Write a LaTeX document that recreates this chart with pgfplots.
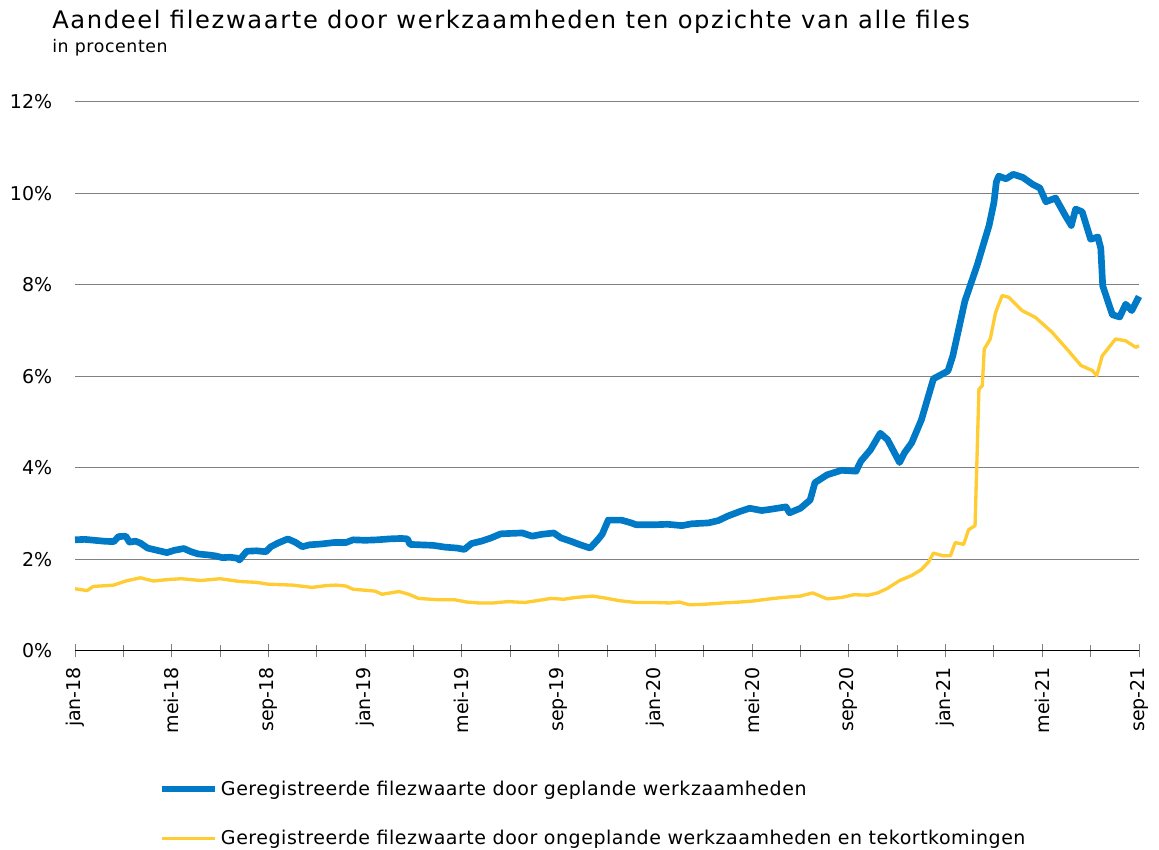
\documentclass[border=0pt]{standalone}
\usepackage{pgfplots}
\pgfplotsset{compat=1.18}
\usepackage{fontspec}
\setmainfont{DejaVu Sans}
\newfontfamily\titlefont[LetterSpace=6.8]{DejaVu Sans}
\newfontfamily\subfont[LetterSpace=3.5]{DejaVu Sans}
\newfontfamily\legfont[LetterSpace=2.8]{DejaVu Sans}
\definecolor{cblue}{RGB}{0,122,198}
\definecolor{cyel}{RGB}{255,204,51}
\definecolor{cgrid}{RGB}{128,128,128}
\begin{document}
\begin{tikzpicture}
\useasboundingbox (0,0) rectangle (695.4pt,510pt);
\node[anchor=base west,inner sep=0pt,font=\titlefont\fontsize{14.5pt}{17pt}\selectfont] at (31.2pt,492.6pt) {Aandeel filezwaarte door werkzaamheden ten opzichte van alle files};
\node[anchor=base west,inner sep=0pt,font=\subfont\fontsize{10.4pt}{12pt}\selectfont] at (31.2pt,478.2pt) {in procenten};
\begin{axis}[
  at={(45pt,119.4pt)}, anchor=south west,
  scale only axis, width=638.4pt, height=329.4pt,
  xmin=0, xmax=44, ymin=0, ymax=12,
  axis x line*=bottom, axis y line*=left,
  y axis line style={draw=none},
  x axis line style={black, line width=0.6pt, -},
  ytick={0,2,...,12},
  yticklabels={0\%,2\%,4\%,6\%,8\%,10\%,12\%},
  ymajorgrids, grid style={cgrid, line width=0.6pt},
  ytick style={draw=none},
  xtick={0,4,...,44},
  xticklabels={jan-18,mei-18,sep-18,jan-19,mei-19,sep-19,jan-20,mei-20,sep-20,jan-21,mei-21,sep-21},
  minor xtick={2,6,...,42},
  tick align=center, major tick length=7.8pt, minor tick length=7pt,
  xtick style={gray, line width=0.6pt},
  tick label style={font=\fontsize{11.4pt}{13.5pt}\selectfont},
  xticklabel style={rotate=90, anchor=east, inner sep=0pt},
  yticklabel style={anchor=east, inner sep=0pt},
  yticklabel shift=9.6pt,
  xticklabel shift=5.5pt,
  clip=false,
  legend style={at={(axis description cs:0.078,-0.230)}, anchor=north west, draw=none, fill=none, inner sep=0pt, row sep=15.9pt, font=\legfont\fontsize{11.4pt}{13.5pt}\selectfont, nodes={inner sep=1.8pt}},
  legend cell align=left,
  legend image code/.code={\draw[#1] (0pt,0pt) -- (31.8pt,0pt);},
]
\addplot[cblue, line width=4pt, line join=round] coordinates {
(0,2.43)(0.4,2.44)(0.8,2.42)(1.2,2.40)(1.6,2.39)(1.8,2.50)(2.1,2.51)(2.25,2.38)(2.5,2.40)(2.7,2.36)
(3.0,2.25)(3.4,2.20)(3.8,2.15)(4.1,2.20)(4.5,2.24)(4.8,2.17)(5.1,2.12)(5.5,2.10)(5.8,2.08)(6.1,2.04)
(6.4,2.05)(6.7,2.03)(6.8,1.99)(7.1,2.18)(7.5,2.19)(7.9,2.17)(8.1,2.28)(8.4,2.36)(8.8,2.45)(9.1,2.38)
(9.4,2.28)(9.7,2.32)(10.2,2.34)(10.7,2.37)(11.2,2.37)(11.5,2.43)(12.0,2.42)(12.5,2.43)(13.0,2.45)(13.5,2.46)
(13.75,2.45)(13.85,2.33)(14.3,2.32)(14.8,2.31)(15.3,2.27)(15.8,2.25)(16.1,2.22)(16.4,2.35)(16.8,2.40)(17.2,2.47)
(17.6,2.56)(18.0,2.57)(18.5,2.58)(18.9,2.51)(19.3,2.55)(19.8,2.58)(20.1,2.47)(20.5,2.40)(20.9,2.32)(21.3,2.25)
(21.6,2.42)(21.8,2.55)(22.05,2.86)(22.6,2.86)(23.0,2.80)(23.2,2.76)(24.0,2.76)(24.5,2.77)(25.1,2.74)(25.5,2.78)
(26.2,2.80)(26.6,2.85)(27.0,2.95)(27.5,3.05)(27.9,3.12)(28.4,3.07)(28.8,3.10)(29.4,3.15)(29.55,3.02)(30.0,3.12)
(30.4,3.30)(30.6,3.68)(31.1,3.85)(31.7,3.95)(32.3,3.93)(32.5,4.15)(32.9,4.40)(33.3,4.76)(33.6,4.62)(34.1,4.12)
(34.3,4.33)(34.6,4.55)(35.0,5.05)(35.5,5.95)(36.1,6.12)(36.3,6.45)(36.8,7.65)(37.3,8.42)(37.8,9.30)(38.0,9.80)
(38.1,10.25)(38.2,10.38)(38.5,10.32)(38.8,10.42)(39.2,10.35)(39.6,10.20)(39.9,10.12)(40.15,9.82)(40.55,9.90)(40.95,9.52)
(41.2,9.30)(41.38,9.66)(41.65,9.60)(42.0,9.00)(42.3,9.05)(42.42,8.80)(42.5,7.98)(42.9,7.35)(43.2,7.30)(43.45,7.58)
(43.7,7.44)(44,7.75)
};
\addlegendentry{Geregistreerde filezwaarte door geplande werkzaamheden}
\addplot[cyel, line width=2pt, line join=round] coordinates {
(0,1.36)(0.5,1.32)(0.75,1.41)(1.6,1.44)(2.1,1.53)(2.7,1.60)(3.25,1.53)(3.8,1.56)(4.4,1.58)(5.2,1.54)
(6.0,1.58)(6.8,1.52)(7.5,1.50)(8.0,1.46)(9.0,1.44)(9.8,1.39)(10.4,1.43)(10.8,1.44)(11.2,1.42)(11.5,1.35)
(12.4,1.31)(12.7,1.24)(13.4,1.30)(13.8,1.24)(14.2,1.15)(15.0,1.12)(15.7,1.12)(16.2,1.07)(16.7,1.05)(17.3,1.05)
(17.9,1.08)(18.6,1.06)(19.1,1.10)(19.7,1.15)(20.2,1.13)(20.7,1.17)(21.4,1.20)(21.9,1.16)(22.5,1.10)(23.2,1.06)
(24.0,1.06)(24.6,1.05)(25.0,1.07)(25.4,1.01)(26.0,1.02)(26.8,1.05)(27.5,1.07)(28.0,1.09)(28.9,1.15)(29.5,1.18)
(30.0,1.20)(30.5,1.27)(31.1,1.14)(31.7,1.17)(32.2,1.23)(32.8,1.22)(33.2,1.27)(33.6,1.37)(34.1,1.54)(34.6,1.65)
(35.0,1.78)(35.3,1.95)(35.5,2.14)(35.9,2.08)(36.2,2.08)(36.4,2.37)(36.75,2.33)(36.95,2.65)(37.22,2.74)(37.3,4.20)
(37.38,5.72)(37.52,5.80)(37.6,6.60)(37.85,6.82)(38.07,7.40)(38.34,7.77)(38.62,7.73)(39.17,7.44)(39.72,7.29)(40.4,6.97)
(41.1,6.55)(41.6,6.24)(42.07,6.13)(42.25,6.02)(42.48,6.45)(42.76,6.64)(43.03,6.82)(43.45,6.78)(43.86,6.64)(44,6.67)
};
\addlegendentry{Geregistreerde filezwaarte door ongeplande werkzaamheden en tekortkomingen}
\end{axis}
\end{tikzpicture}
\end{document}
